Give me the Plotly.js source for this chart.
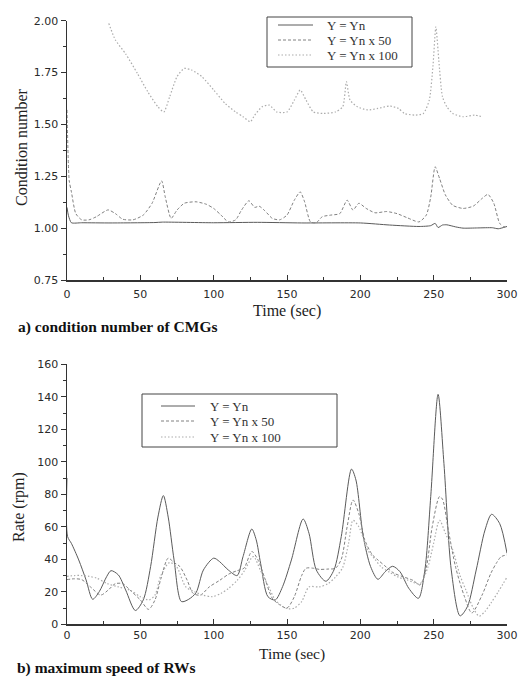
<!DOCTYPE html>
<html>
<head>
<meta charset="utf-8">
<script src="https://cdn.plot.ly/plotly-3.0.1.min.js"></script>
<style>
  html, body { margin: 0; padding: 0; background: #fff; }
  #chart { width: 530px; height: 677px; }
</style>
</head>
<body>
<div id="chart"></div>
<script>
// ---- series names ----
const seriesNames = ['Y = Yn', 'Y = Yn x 50', 'Y = Yn x 100'];

// ---- (a) condition number of CMGs ----
const cnT0 = [0, 1, 3, 10, 30, 60, 65, 100, 130, 160, 200, 220, 240, 248, 251, 253, 256, 259, 265, 270, 280, 290, 294, 300];
const cnY0 = [1.10, 1.06, 1.026, 1.026, 1.025, 1.027, 1.029, 1.026, 1.028, 1.025, 1.025, 1.015, 1.008, 1.012, 1.023, 1.003, 1.015, 1.016, 1.006, 1.0, 1.001, 1.002, 0.997, 1.008];

const cnT1 = [0, 1.5, 3, 6, 10, 15, 20, 28, 33, 38, 45, 52, 58, 64.5, 67, 71, 75, 80, 88, 95, 100, 105, 110, 115, 119, 124, 128, 131, 135, 140, 145, 150, 155, 159, 162, 166, 170, 174, 180, 186, 191, 195, 199, 204, 210, 218, 225, 232, 240, 245, 248, 251, 254, 258, 263, 270, 277, 283, 287, 291, 295, 298, 300];
const cnY1 = [1.57, 1.23, 1.175, 1.07, 1.04, 1.04, 1.055, 1.088, 1.07, 1.043, 1.04, 1.063, 1.12, 1.228, 1.15, 1.047, 1.087, 1.12, 1.127, 1.115, 1.095, 1.063, 1.03, 1.04, 1.087, 1.132, 1.10, 1.106, 1.083, 1.047, 1.04, 1.063, 1.135, 1.175, 1.127, 1.03, 1.026, 1.055, 1.063, 1.07, 1.135, 1.087, 1.12, 1.095, 1.074, 1.08, 1.07, 1.05, 1.03, 1.063, 1.15, 1.296, 1.24, 1.16, 1.11, 1.095, 1.106, 1.143, 1.163, 1.12, 1.023, 1.007, 1.015];

const cnT2 = [28.5, 33, 40, 48, 55, 62, 66, 70, 75, 80, 85, 92, 100, 108, 115, 120, 125, 128, 133, 138, 143, 150, 155, 159, 163, 168, 175, 183, 188, 190.5, 193, 198, 205, 212, 220, 226, 230, 237, 243, 247, 249.5, 251.5, 253.5, 256, 259, 263, 270, 278, 283];
const cnY2 = [1.987, 1.907, 1.84, 1.746, 1.658, 1.585, 1.56, 1.633, 1.73, 1.77, 1.762, 1.73, 1.666, 1.60, 1.56, 1.537, 1.513, 1.545, 1.585, 1.593, 1.56, 1.56, 1.617, 1.666, 1.617, 1.56, 1.553, 1.56, 1.585, 1.706, 1.617, 1.585, 1.57, 1.577, 1.589, 1.577, 1.553, 1.545, 1.553, 1.617, 1.78, 1.97, 1.81, 1.634, 1.585, 1.553, 1.537, 1.545, 1.537];

// ---- (b) maximum speed of RWs ----
const rwT0 = [0, 0.4, 3, 8, 13, 17.5, 22, 27, 30, 35, 40, 46.6, 52, 57, 62, 65.7, 69, 73, 78, 83, 88, 93, 100, 104, 110, 116, 120, 126, 129, 132, 137, 142, 147, 153, 161, 165, 170, 176.5, 182, 187, 194, 197, 202, 207, 212, 217, 222, 227, 233, 239.6, 244, 248, 253, 257, 262, 268, 273, 279, 285, 289.5, 295, 300];
const rwY0 = [90, 54, 49.8, 39.6, 27.3, 15.4, 20.1, 29.3, 33, 30.4, 21.1, 8.5, 15, 35.5, 66, 79.2, 66, 39.6, 14, 15.4, 19.5, 33.4, 40.7, 38.6, 33.4, 30, 41.6, 58.6, 52, 37.5, 17, 15, 23.2, 39.6, 64.8, 56, 33.4, 26.5, 33.4, 54, 95.5, 88.8, 54, 35.5, 27.7, 32.4, 35.7, 32.4, 22.2, 16, 33.4, 78.6, 141.5, 99, 33.4, 5.2, 10.9, 33.4, 58, 67.7, 62, 43.7];

const rwT1 = [0, 5, 10, 16, 23, 28, 33, 38, 43, 50, 55.6, 60, 64, 69, 73, 77, 82, 86, 91, 97, 104, 110.5, 116, 120.6, 126, 130, 135, 140, 145, 150, 155, 160, 163, 168, 172, 178, 183, 187, 191, 195, 199, 203, 208, 212, 218, 223, 230, 236, 240.7, 245, 249, 254, 256, 260, 265, 271, 276, 283, 289, 293, 296, 300];
const rwY1 = [27.5, 28, 27.5, 23, 18, 21, 25, 25, 21, 15, 9.2, 15, 28, 40.7, 38, 35.5, 27, 19, 18, 23, 27, 31, 33, 34.5, 44.8, 40, 28, 16, 12, 10, 17, 30, 34.5, 34.5, 33.8, 34, 34.5, 40, 60, 76.5, 68, 52, 43, 39.6, 35, 31.4, 29, 27, 24.2, 35, 60, 78.6, 77, 58, 35, 17, 7, 18, 31.4, 38, 41.6, 42.7];

const rwT2 = [0, 5, 10, 15, 20, 27.6, 35, 43, 50, 56, 60, 64, 70, 75, 81, 87, 92.6, 99, 105, 110, 116, 121, 127, 132, 137, 142, 147, 151, 155, 160, 165, 172, 178, 183, 188, 192, 195, 199, 205, 210, 214, 220, 226, 232, 240.7, 246, 250, 254, 258, 263, 268, 272, 277, 281, 285, 289, 294, 300];
const rwY2 = [29.5, 30, 30, 29.5, 28.5, 25, 23, 21, 17, 15, 18, 30, 38, 35, 23, 20, 18, 17, 19, 22, 27, 33, 41.7, 33, 24, 15, 11, 9.5, 10, 14, 23, 23, 25, 29, 35, 50, 64, 60, 45.7, 40, 35.5, 32, 29, 27.3, 25, 35, 50, 64, 56, 45.7, 30, 21, 10, 5, 8, 13, 20, 29];

// ---- line styles per series ----
const lineStyles = [
  { color: '#5a5a5a', width: 1, dash: 'solid' },
  { color: '#808080', width: 1, dash: '3px,2px' },
  { color: '#ababab', width: 1.2, dash: '1.5px,2px' }
];

const W = 530, H = 677;
const px = x => x / W;
const py = y => 1 - y / H;

function trace(t, v, i, xa, ya, smooth) {
  return {
    x: t, y: v, type: 'scatter', mode: 'lines',
    line: Object.assign({ shape: 'spline', smoothing: smooth }, lineStyles[i]),
    xaxis: xa, yaxis: ya, showlegend: false, hoverinfo: 'skip'
  };
}

const data = [
  trace(cnT0, cnY0, 0, 'x', 'y', 0.6),
  trace(cnT1, cnY1, 1, 'x', 'y', 0.6),
  trace(cnT2, cnY2, 2, 'x', 'y', 0.6),
  trace(rwT0, rwY0, 0, 'x2', 'y2', 0.8),
  trace(rwT1, rwY1, 1, 'x2', 'y2', 0.8),
  trace(rwT2, rwY2, 2, 'x2', 'y2', 0.8)
];

const tickFont = { family: 'DejaVu Sans', size: 11, color: '#2a2a2a' };
const serif = 'Liberation Serif';
const axisColor = '#333';

function xAxis(anchor, standoff) {
  return {
    domain: [px(67), px(507)], anchor: anchor, range: [0, 300],
    dtick: 50, tick0: 0, ticks: 'inside', ticklen: 5, tickwidth: 1, tickcolor: axisColor,
    minor: { dtick: 25, ticks: 'inside', ticklen: 3, tickcolor: axisColor },
    showline: true, linecolor: axisColor, linewidth: 1.5, showgrid: false, zeroline: false,
    tickfont: tickFont, ticklabelstandoff: standoff, fixedrange: true
  };
}
function yAxis(anchor, dom, range, dtick, minorDtick, fmt) {
  return {
    domain: dom, anchor: anchor, range: range, dtick: dtick, tick0: 0,
    ticks: 'outside', ticklen: 5, tickwidth: 1, tickcolor: axisColor,
    minor: { dtick: minorDtick, ticks: 'outside', ticklen: 3, tickcolor: axisColor },
    showline: true, linecolor: axisColor, linewidth: 1.5, showgrid: false, zeroline: false,
    tickfont: tickFont, tickformat: fmt, fixedrange: true
  };
}

// legend boxes drawn as paper-space decorations
const legendBoxes = [
  { x0: 267, x1: 412, y0: 17, y1: 67, lx0: 278, lx1: 313, tx: 325, rows: [25, 40, 55] },
  { x0: 142, x1: 337, y0: 394, y1: 447, lx0: 161, lx1: 195, tx: 208, rows: [406, 421, 437] }
];
const shapes = [];
const annotations = [];
legendBoxes.forEach(b => {
  shapes.push({ type: 'rect', xref: 'paper', yref: 'paper',
    x0: px(b.x0), x1: px(b.x1), y0: py(b.y0), y1: py(b.y1),
    line: { color: '#444', width: 1 } });
  seriesNames.forEach((name, i) => {
    shapes.push({ type: 'line', xref: 'paper', yref: 'paper',
      x0: px(b.lx0), x1: px(b.lx1), y0: py(b.rows[i]), y1: py(b.rows[i]),
      line: { color: lineStyles[i].color, width: lineStyles[i].width, dash: lineStyles[i].dash } });
    annotations.push({ xref: 'paper', yref: 'paper', x: px(b.tx), y: py(b.rows[i]),
      xanchor: 'left', yanchor: 'middle', showarrow: false, text: name,
      font: { family: serif, size: 13, color: '#333' } });
  });
});

function label(text, x, y, opts) {
  return Object.assign({ xref: 'paper', yref: 'paper', x: px(x), y: py(y),
    showarrow: false, text: text, xanchor: 'center', yanchor: 'middle',
    font: { family: serif, size: 16, color: '#222' } }, opts || {});
}
annotations.push(label('Condition number', 22, 147, { textangle: -90 }));
annotations.push(label('Time (sec)', 287, 311));
annotations.push(label('Rate (rpm)', 19, 507, { textangle: -90 }));
annotations.push(label('Time (sec)', 292, 654, { font: { family: serif, size: 15.5, color: '#222' } }));
annotations.push(label('<b>a) condition number of CMGs</b>', 16, 327,
  { xanchor: 'left', font: { family: serif, size: 15.5, color: '#111' } }));
annotations.push(label('<b>b) maximum speed of RWs</b>', 15, 668,
  { xanchor: 'left', font: { family: serif, size: 15.5, color: '#111' } }));

const layout = {
  width: W, height: H,
  margin: { l: 0, r: 0, t: 0, b: 0 },
  paper_bgcolor: '#fff', plot_bgcolor: '#fff',
  showlegend: false,
  xaxis: xAxis('y', 3),
  yaxis: yAxis('x', [py(280), py(20.7)], [0.75, 2.0], 0.25, 0.125, '.2f'),
  xaxis2: xAxis('y2', 0),
  yaxis2: yAxis('x2', [py(624.3), py(364.3)], [0, 160], 20, 10, 'd'),
  shapes: shapes,
  annotations: annotations
};

Plotly.newPlot('chart', data, layout, { staticPlot: true, displayModeBar: false });
</script>
</body>
</html>
